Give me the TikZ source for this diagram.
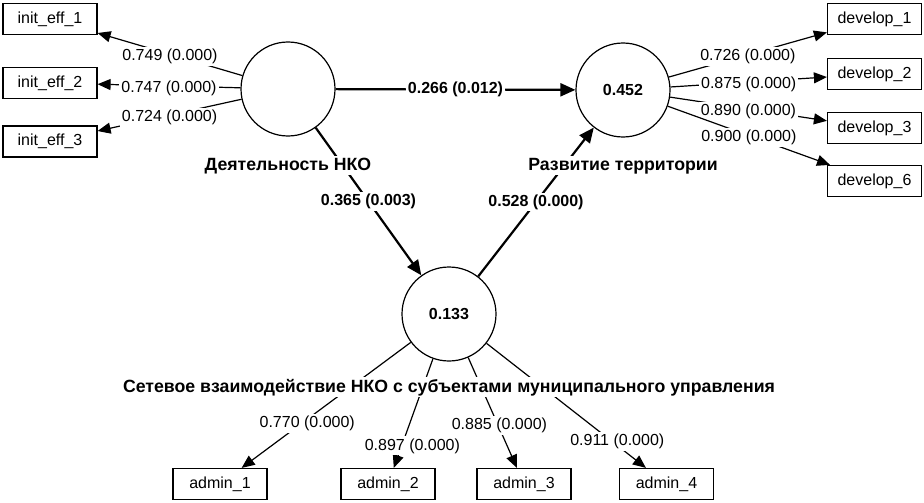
\documentclass[tikz,border=0pt]{standalone}
\usepackage{fontspec}
\setmainfont{Liberation Sans}
\usetikzlibrary{arrows.meta,positioning}

\begin{document}
\begin{tikzpicture}[
      x=1pt, y=-1pt,
      font=\fontsize{16}{19}\selectfont,
      lv/.style={circle, draw=black, line width=1.2pt, minimum size=94pt, inner sep=0pt, font=\fontsize{16}{19}\selectfont\bfseries},
      mv/.style={draw=black, line width=1.2pt, minimum width=94pt, minimum height=31pt, inner sep=0pt},
      lvname/.style={fill=white, font=\fontsize{17.7}{21}\selectfont\bfseries, inner sep=1.5pt},
      outer/.style={-{Triangle[length=13pt,width=11pt]}, line width=1.2pt},
      inner/.style={-{Triangle[length=15pt,width=13pt]}, line width=2.2pt},
      coef/.style={fill=white, inner sep=2pt, yshift=-2pt},
      bcoef/.style={fill=white, inner sep=2pt, font=\fontsize{16}{19}\selectfont\bfseries}
    ]
      \useasboundingbox (0,0) rectangle (924,503);
      % constructs
      \node[lv] (nko) at (288,89) {};
      \node[lv] (terr) at (623,90) {0.452};
      \node[lv] (net) at (449,314) {0.133};
      % indicators
      \node[mv] (ie1) at (50,19) {init\_eff\_1};
      \node[mv] (ie2) at (50,83) {init\_eff\_2};
      \node[mv] (ie3) at (50,141.5) {init\_eff\_3};
      \node[mv] (dev1) at (874.5,19) {develop\_1};
      \node[mv] (dev2) at (874.5,74) {develop\_2};
      \node[mv] (dev3) at (874.5,128) {develop\_3};
      \node[mv] (dev6) at (874.5,181) {develop\_6};
      \node[mv] (adm1) at (220,484) {admin\_1};
      \node[mv] (adm2) at (388,484) {admin\_2};
      \node[mv] (adm3) at (524,484) {admin\_3};
      \node[mv] (adm4) at (666.5,484) {admin\_4};
      % outer loadings
      \draw[outer] (nko) -- node[coef] {0.749 (0.000)} (ie1);
      \draw[outer] (nko) -- node[coef] {0.747 (0.000)} (ie2);
      \draw[outer] (nko) -- node[coef] {0.724 (0.000)} (ie3);
      \draw[outer] (terr) -- node[coef] {0.726 (0.000)} (dev1);
      \draw[outer] (terr) -- node[coef] {0.875 (0.000)} (dev2);
      \draw[outer] (terr) -- node[coef] {0.890 (0.000)} (dev3);
      \draw[outer] (terr) -- node[coef] {0.900 (0.000)} (dev6);
      \draw[outer] (net) -- node[coef, pos=0.63, xshift=3pt] {0.770 (0.000)} (adm1);
      \draw[outer] (net) -- node[coef, pos=0.78, xshift=10pt] {0.897 (0.000)} (adm2);
      \draw[outer] (net) -- node[coef, pos=0.6, xshift=2pt] {0.885 (0.000)} (adm3);
      \draw[outer] (net) -- node[coef, pos=0.77, xshift=8pt] {0.911 (0.000)} (adm4);
      % path coefficients
      \draw[inner] (nko) -- node[bcoef] {0.266 (0.012)} (terr);
      \draw[inner] (nko) -- node[bcoef] {0.365 (0.003)} (net);
      \draw[inner] (net) -- node[bcoef] {0.528 (0.000)} (terr);
      % construct names (on top of the lines)
      \node[lvname, below=33.5pt of nko, anchor=base] (nkoname) {Деятельность НКО};
      \node[lvname, below=32.5pt of terr, anchor=base] (terrname) {Развитие территории};
      \node[lvname, below=30.5pt of net, anchor=base] (netname) {Сетевое взаимодействие НКО с субъектами муниципального управления};
    \end{tikzpicture}
\end{document}
